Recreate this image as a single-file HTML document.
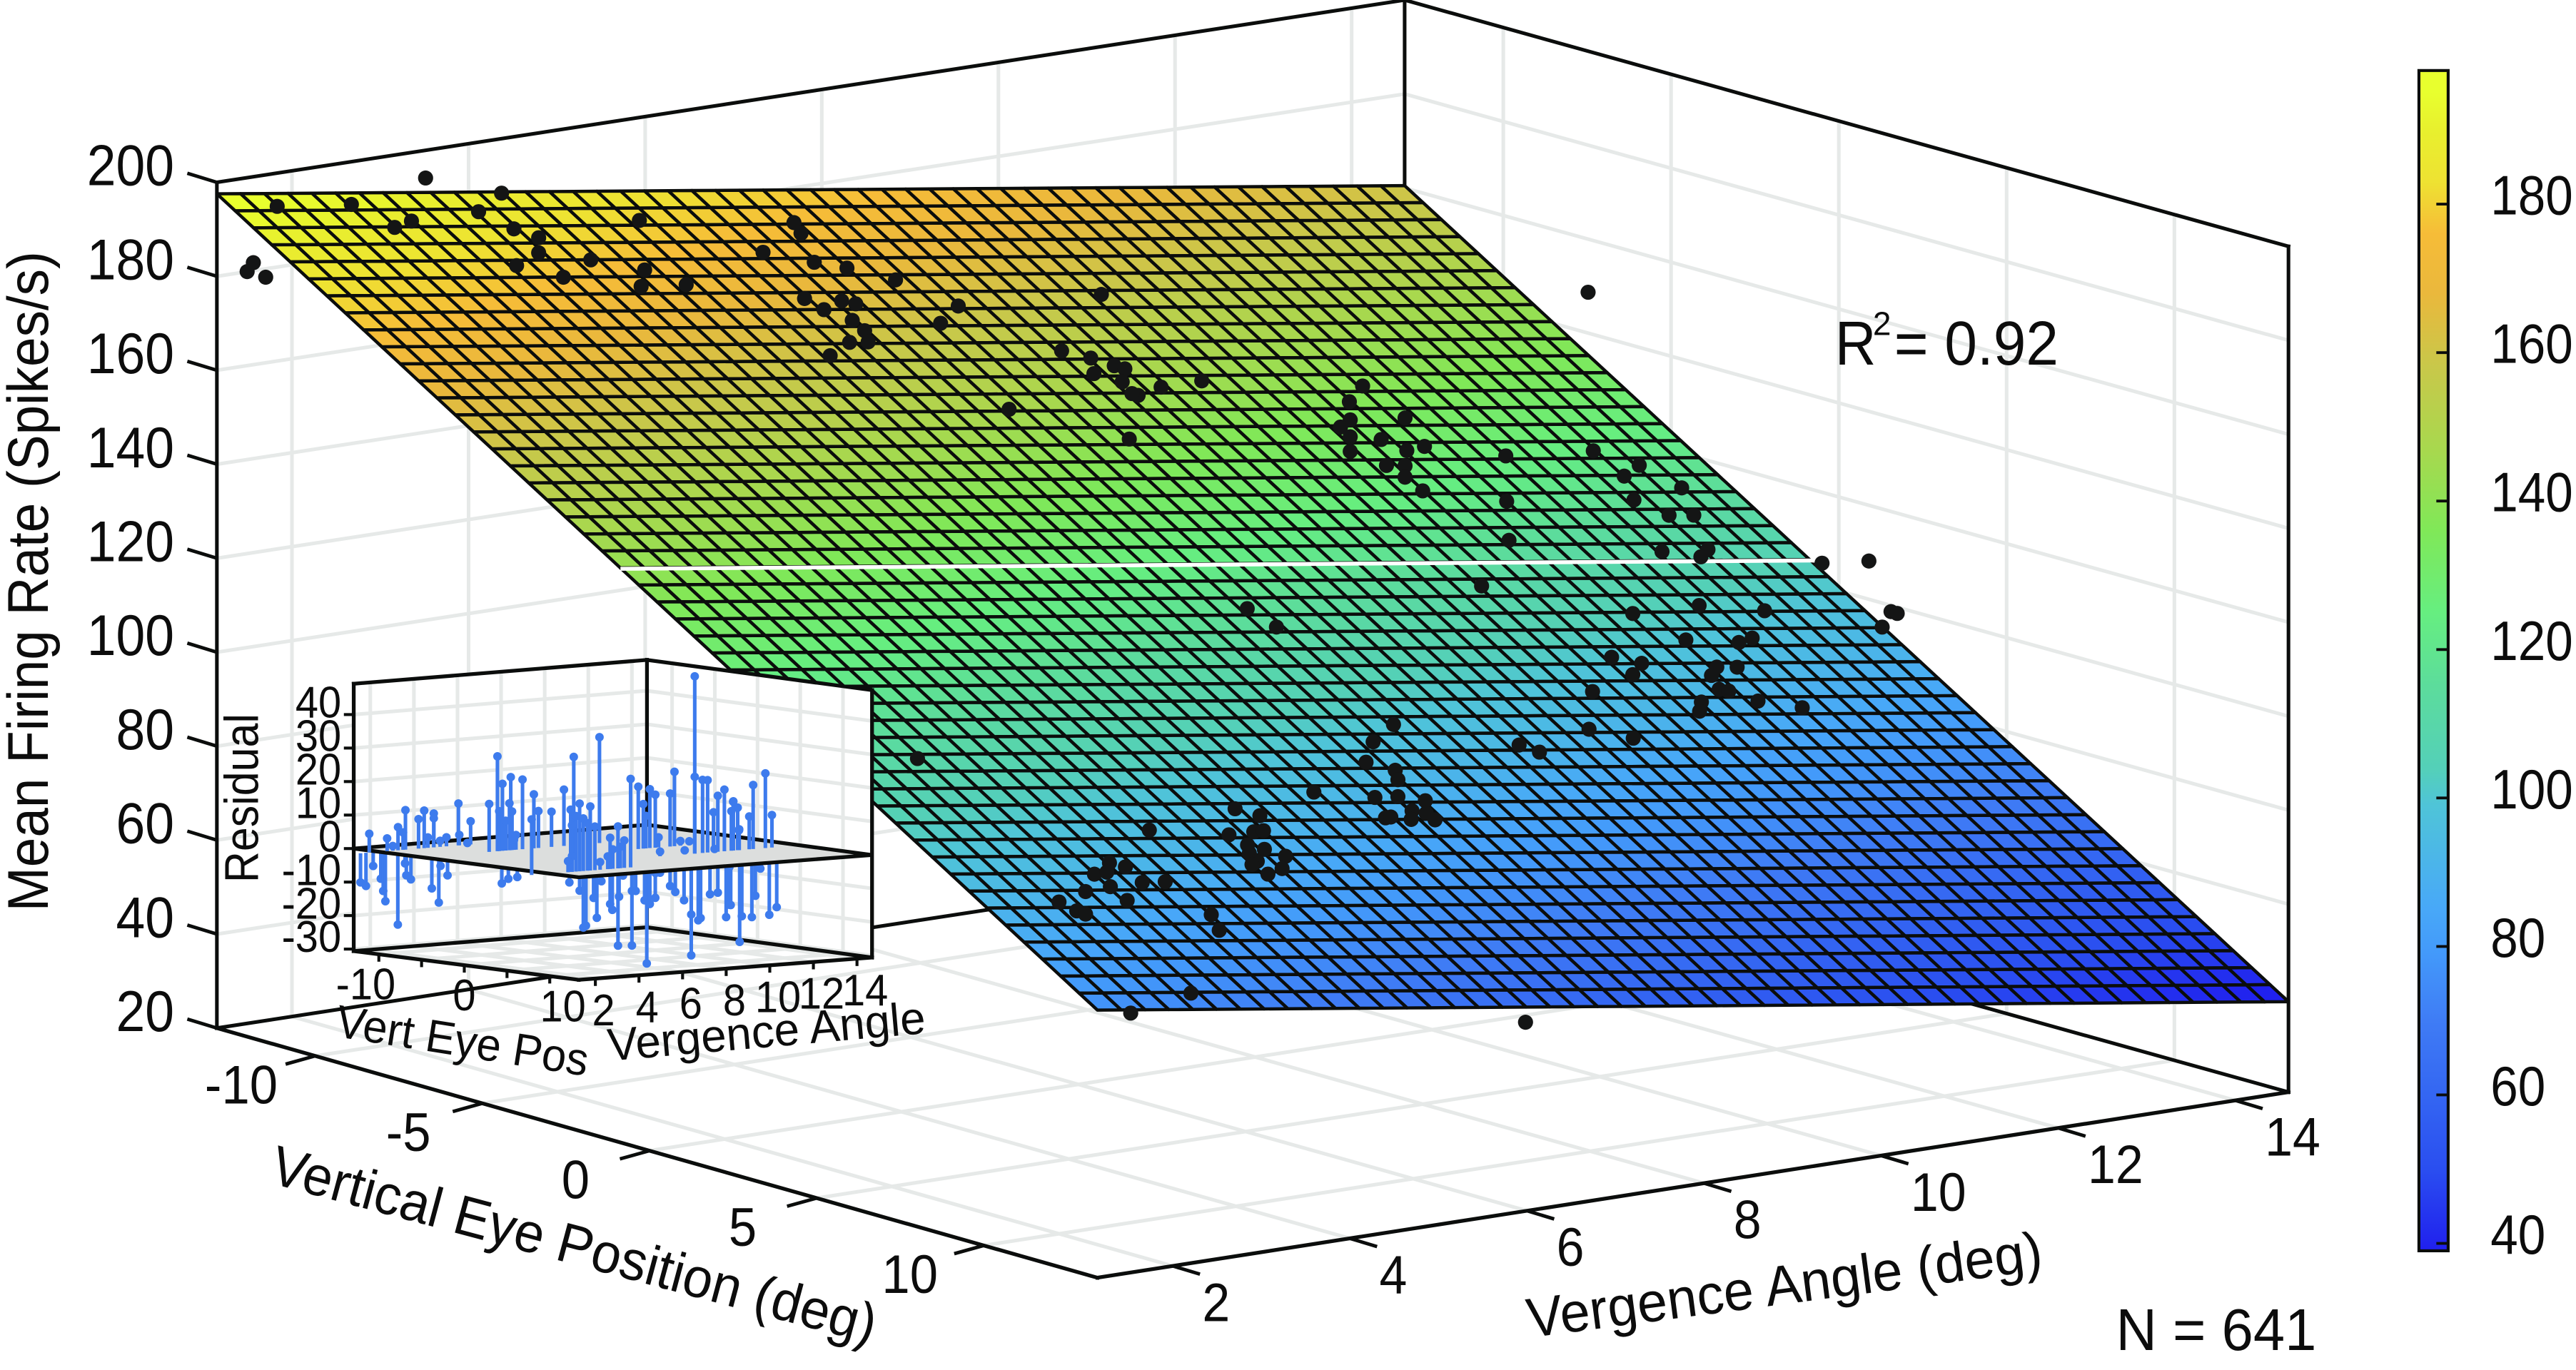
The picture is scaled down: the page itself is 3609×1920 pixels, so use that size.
<!DOCTYPE html>
<html lang="en">
<head>
<meta charset="utf-8">
<title>Mean firing rate vs vergence angle and vertical eye position</title>
<style>
  html, body { margin: 0; padding: 0; background: #ffffff; }
  svg { display: block; font-family: "Liberation Sans", Arial, sans-serif; fill: #0c0c0c; }
</style>
</head>
<body>
<svg id="chart" xmlns="http://www.w3.org/2000/svg" width="3609" height="1920" viewBox="0 0 1568 834.2">
  <rect x="0" y="0" width="1568" height="834.2" fill="#ffffff"/>
  <defs><linearGradient id="barGradient" x1="0" y1="1" x2="0" y2="0"></linearGradient></defs>
  <g id="mainGrid"></g>
  <g id="mainBox"></g>
  <g id="surface"></g>
  <g id="scatter"></g>
  <g id="mainAxes"></g>
  <g id="colorbar"></g>
  <g id="inset"></g>

  <text transform="translate(29,555) rotate(-90)" font-size="35" textLength="402" lengthAdjust="spacingAndGlyphs">Mean Firing Rate (Spikes/s)</text>
  <text transform="translate(163,720) rotate(15)" font-size="34" textLength="380" lengthAdjust="spacingAndGlyphs">Vertical Eye Position (deg)</text>
  <text transform="translate(931,814.5) rotate(-7.5)" font-size="34" textLength="316" lengthAdjust="spacingAndGlyphs">Vergence Angle (deg)</text>
  <text x="1288" y="822" font-size="36" textLength="122" lengthAdjust="spacingAndGlyphs">N = 641</text>
  <text x="1117" y="222" font-size="38" textLength="25" lengthAdjust="spacingAndGlyphs">R</text>
  <text x="1140" y="204" font-size="20">2</text>
  <text x="1153" y="222" font-size="38" textLength="100" lengthAdjust="spacingAndGlyphs">= 0.92</text>
  <text transform="translate(157,537.5) rotate(-90)" font-size="29" textLength="103" lengthAdjust="spacingAndGlyphs">Residual</text>
  <text transform="translate(203.5,631) rotate(9)" font-size="28" textLength="155" lengthAdjust="spacingAndGlyphs">Vert Eye Pos</text>
  <text transform="translate(370.7,646) rotate(-5)" font-size="28" textLength="194" lengthAdjust="spacingAndGlyphs">Vergence Angle</text>
</svg>

<script>
// ---- tick labels ----
var rateTicks = [20, 40, 60, 80, 100, 120, 140, 160, 180, 200];
var vergenceTicks = [2, 4, 6, 8, 10, 12, 14];
var eyeTicks = [-10, -5, 0, 5, 10];
var colorbarTicks = [40, 60, 80, 100, 120, 140, 160, 180];
var residualTicks = [-30, -20, -10, 0, 10, 20, 30, 40];
var insetEyeLabels = [-10, 0, 10];

// ---- colormap ----
var colorValues = [39, 50, 60, 70, 79, 85, 99, 104, 115, 125, 136, 147, 158, 168, 176, 183, 190, 195, 198];
var colorHexes = ['#2020ee', '#2a4ef0', '#3466f2', '#3f7cf5', '#4399fa', '#48a8f8', '#4fc4d8', '#54d0b8', '#5cdc9c', '#66ee80', '#80e858', '#a8d84e', '#c8c84a', '#eab83c', '#f6bc38', '#eee232', '#e8f02e', '#e8ff2e', '#e8ff2e'];

// ---- scatter data, one pair of arrays per vertical eye position ----
var scatterEyeLevels = [-10, -5, 0, 5, 10];
var vergenceEyeM10 = [2.40,3.26,.72,1.56,3.00,2.24,2.05,3.40,3.68,3.68,3.43,3.96,.45,.38,.59,4.82,6.57,6.65,6.22,4.27,4.88,6.80,7.17,7.72,4.84,5.35,6.69,6.91,7.11,7.27,7.23,7.37,7.20,7.41,6.98,10.05,8.43,8.23,9.60,9.93,15.56];
var rateEyeM10 = [202.9,197.2,201.7,199.7,194.0,194.2,193.4,189.2,186.5,183.3,181.3,177.3,190.5,188.8,187,186.9,181.4,178.9,176.1,180.1,176.2,172.3,170,165.9,172.8,171.7,164.9,161.9,163.2,162.1,158.7,156.1,154.1,153.6,151.9,156.1,158.3,155.2,145.4,142.9,140.7];
var vergenceEyeM5 = [8.07,8.30,8.42,8.39,8.57,8.50,8.83,9.29,7.11,8.47,11.11,10.96,10.97,10.86,10.97,11.59,10.97,11.32,11.61,11.81,11.38,11.59,11.59,11.79,12.73,13.72,14.24,14.07,14.72,14.18,12.74];
var rateEyeM5 = [154.8,155.8,154.8,152.1,148.7,149.3,149.7,149.7,150,139.7,143.3,140.4,136.5,135.3,132.9,135.1,129.8,131.3,128.1,128.4,125.6,124.9,122.5,119,123.7,121.9,117.3,115.5,111.1,110.1,114];
var vergenceEye0 = [12.68,12.96,10.87,12.60,13.12,13.04,14.41,14.94,10.56,7.91,8.24,13.02,13.76,12.27,15.19,15.26,15.09,12.87,13.47,13.62,12.03,12.37,12.27,13.22,13.45,13.16];
var rateEye0 = [120.9,120.1,120.9,113.4,112.3,111,105.6,104.5,112.1,115.1,110.2,100.7,97.4,101.2,93,92.4,90,93.8,91.5,92,92.6,90.3,88.2,87,86.3,85.4];
var vergenceEye5 = [9.92,11.35,11.46,11.15,11.79,12.29,11.13,7.67,9.88,10.38,7.44,9.09,9.32,7.36,7.69,7.72,6.77,7.46,7.72,8.03,7.88,7.58,7.64,7.87,8.04,8.14,5.88,6.16,2.29];
var rateEye5 = [101.3,97.5,96.8,95.4,93.7,90.8,93.5,101,93.4,90,98,92.4,90.2,93.9,91.2,89.1,89.3,86.1,85.5,83.7,82,81.4,81.4,80.2,81,79.3,88.4,86.1,109.8];
var vergenceEye10 = [3.02,4.20,4.31,3.92,4.13,4.32,4.15,4.56,4.24,4.18,4.52,4.36,2.57,2.75,2.40,2.54,2.94,3.20,2.58,2.30,2.00,2.77,2.20,2.30,3.72,3.81,3.49,2.81,7.27];
var rateEye10 = [102.4,98.5,98.4,98.7,95.9,94.4,94.1,92.2,92.1,91.6,89.7,89,96.8,95.4,94.9,94.9,91.5,90.9,91.7,91.5,90.2,88.2,87.7,86.7,82.3,78.7,66.3,64.1,48.7];

// ---- residual stems, one pair of arrays per vertical eye position ----
var residVergenceM10 = [.80,1.62,2.12,2.46,2.35,3.06,3.32,3.49,3.76,3.76,4.05,4.34,4.89,4.93,5.45,5.30,1.88,.40,.65,.98,1.33,1.44,1.54,2.11,2.44,2.71,2.50,3.67,3.99,4.07,4.39];
var residualM10 = [5.6,3.8,6.9,11.8,5.2,8.8,11.2,3.1,10.1,8.7,1.8,2.7,12.5,3.1,6.9,.5,1.4,-8.7,-9.9,-4.1,-8.1,-11.8,-14.9,-22.2,-4.1,-9,-7.7,-12.2,-16.6,-5.7,-8.7];
var residVergenceM5 = [4.34,4.72,4.95,5.33,5.27,5.39,5.87,4.80,5.10,5.57,5.48,6.39,6.60,7.20,7.77,9.40,4.92,5.22,5.63];
var residualM5 = [14.3,28.3,20,21.8,14,11.5,20.8,11.9,8.9,4.4,3,16.1,11,10.5,16.8,31.6,-9.7,-8.5,-8.2];
var residVergence0 = [6.26,9.22,9.75,10.0,9.45,10.68,10.88,10.15,9.57,11.15,11.56];
var residual0 = [29,18.6,17.6,15.8,13.3,15.8,22.2,3,9.7,1.4,1.1];
var residVergence5 = [8.26,9.39,9.85,9.85,10.21,10.44,10.91,11.21,11.61,10.71,11.53,11.82,10.76,11.88,13.09,12.53,13.39,12.35,11.62,11.89,4.10,4.57,4.74,4.86,5.36,5.21,5.57,5.97,6.07,6.33,6.38,6.56,6.97,6.97,7.14,7.65,7.55,7.79,8.04,8.05,8.26,8.72,8.96,9.36,9.69,9.69,10.01,10.12,10.55,10.91,11.29,11.50,11.91,13.61,13.27,12.47,12.63,12.01,12.86,11.44,11.44];
var residual5 = [1.4,1.2,22.9,52.9,21.8,21.6,16.7,18.4,14.6,11.9,11.8,12.7,.9,5.9,22.3,19.1,9.7,9.8,14.7,6.2,-5.7,-8.4,-19.5,-19,-16.9,-10.9,-6.1,-13.1,-14.9,-25.7,-11.1,-4.9,-26,-9.7,-9.8,-31.7,-12.8,-14,-12.3,-4.9,-4.9,-9.1,-11,-13.7,-30.3,-18.1,-20,-19.4,-12.5,-12.2,-19.7,-16.2,-27.4,-17.9,-20,-20.3,-14,-19.8,-6,-4.8,-16.1];
var residVergence10 = [.41,2.61,2.20,3.10,2.78,2.97,3.31,2.44,4.37,4.01,4.66,4.95,2.26,4.13,4.48,3.90,3.55,2.26,2.08];
var residual10 = [16.6,20.2,18.6,19.1,15.7,14.2,13,16.6,12.5,9.3,8.2,26.4,13.9,5.8,6.4,3.8,2.3,4.7,3.3];

// ---- helpers ----
var SVGNS = 'http://www.w3.org/2000/svg';
var INK = '#0b0d0c';
var GRID = '#e6e9e8';
var BLUE = '#3d7bed';
function el(tag, attrs, parent) {
  var n = document.createElementNS(SVGNS, tag);
  for (var k in attrs) { n.setAttribute(k, attrs[k]); }
  parent.appendChild(n);
  return n;
}
function pointsAttr(list) {
  return list.map(function (p) { return p[0].toFixed(2) + ',' + p[1].toFixed(2); }).join(' ');
}
function hexToRgb(h) {
  return [parseInt(h.substr(1, 2), 16), parseInt(h.substr(3, 2), 16), parseInt(h.substr(5, 2), 16)];
}
function colorFor(val) {
  if (val <= colorValues[0]) { return colorHexes[0]; }
  for (var i = 1; i < colorValues.length; i++) {
    if (val <= colorValues[i]) {
      var t = (val - colorValues[i - 1]) / (colorValues[i] - colorValues[i - 1]);
      var a = hexToRgb(colorHexes[i - 1]);
      var b = hexToRgb(colorHexes[i]);
      return 'rgb(' + Math.round(a[0] + (b[0] - a[0]) * t) + ',' + Math.round(a[1] + (b[1] - a[1]) * t) + ',' + Math.round(a[2] + (b[2] - a[2]) * t) + ')';
    }
  }
  return colorHexes[colorHexes.length - 1];
}

// ---- main axis functions ----
var VERG_MIN = 1.15, VERG_MAX = 14.6, EYE_MIN = -12.94, EYE_MAX = 13.4, RATE_BASE = 20, RATE_PX = 2.861;
function vNorm(verg) { return (verg - VERG_MIN) / (VERG_MAX - VERG_MIN); }
function eNorm(eye) { return (eye - EYE_MIN) / (EYE_MAX - EYE_MIN); }
function screenX(e, v) { return 132 + 536 * e + 723 * v + 2 * e * v; }
function floorY(e, v) { return 626 + 152 * e - 111 * v - 2 * e * v; }
function wallPoint(e, v, rate) { return [screenX(e, v), floorY(e, v) - (rate - RATE_BASE) * RATE_PX]; }
function markPoint(e, v, rate) { return [screenX(e, v), 625 + 152 * e - 110 * v - 7 * e * v - (rate - RATE_BASE) * RATE_PX]; }
function surfaceRate(e, v) { return 197.2 - 36.7 * v - 120.6 * e - 2.4 * e * v; }

var mainGrid = document.getElementById('mainGrid');
var mainBox = document.getElementById('mainBox');
var surfaceGroup = document.getElementById('surface');
var scatterGroup = document.getElementById('scatter');
var mainAxes = document.getElementById('mainAxes');
var colorbarGroup = document.getElementById('colorbar');
var insetGroup = document.getElementById('inset');

function gridLine(parent, a, b, width) {
  var line = el('line', { x1: a[0], y1: a[1], x2: b[0], y2: b[1], stroke: GRID, 'stroke-width': width }, parent);
  
  
}
function boxLine(parent, a, b, width) {
  var line = el('line', { x1: a[0], y1: a[1], x2: b[0], y2: b[1], stroke: INK, 'stroke-width': width, 'stroke-linecap': 'square' }, parent);
  
  
}
function tickLine(parent, a, dx, dy, width) {
  var line = el('line', { x1: a[0], y1: a[1], x2: a[0] + dx, y2: a[1] + dy, stroke: INK, 'stroke-width': width }, parent);
  
  
}
function tickText(parent, x, y, size, anchor, value, squeeze) {
  var label = String(value);
  var digits = label.replace('-', '').length;
  var widthEm = digits * 0.556 + (label.length - digits) * 0.333;
  var t = el('text', { x: x, y: y, 'font-size': size, 'text-anchor': anchor, textLength: (widthEm * size * squeeze).toFixed(2), lengthAdjust: 'spacingAndGlyphs' }, parent);
  t.textContent = label;
  
  
}

// walls and floor gridlines
var TOP_RATE = 200;
vergenceTicks.forEach(function (tick) {
  var v = vNorm(tick);
  gridLine(mainGrid, wallPoint(0, v, RATE_BASE), wallPoint(1, v, RATE_BASE), 2.2);
  gridLine(mainGrid, wallPoint(0, v, RATE_BASE), wallPoint(0, v, TOP_RATE), 2.2);
});
eyeTicks.forEach(function (tick) {
  var e = eNorm(tick);
  gridLine(mainGrid, wallPoint(e, 0, RATE_BASE), wallPoint(e, 1, RATE_BASE), 2.2);
  gridLine(mainGrid, wallPoint(e, 1, RATE_BASE), wallPoint(e, 1, TOP_RATE), 2.2);
});
rateTicks.forEach(function (tick) {
  gridLine(mainGrid, wallPoint(0, 0, tick), wallPoint(0, 1, tick), 2.2);
  gridLine(mainGrid, wallPoint(0, 1, tick), wallPoint(1, 1, tick), 2.2);
});

// box
var cLeft = wallPoint(0, 0, RATE_BASE), cFront = wallPoint(1, 0, RATE_BASE), cRight = wallPoint(1, 1, RATE_BASE), cBack = wallPoint(0, 1, RATE_BASE);
var tLeft = wallPoint(0, 0, TOP_RATE), tRight = wallPoint(1, 1, TOP_RATE), tBack = wallPoint(0, 1, TOP_RATE);
boxLine(mainBox, cLeft, tLeft, 2.2);
boxLine(mainBox, cRight, tRight, 2.2);
boxLine(mainBox, cBack, tBack, 2.2);
boxLine(mainBox, tLeft, tBack, 2.2);
boxLine(mainBox, tBack, tRight, 2.2);
boxLine(mainBox, cLeft, cBack, 2.2);
boxLine(mainBox, cBack, cRight, 2.2);

// fitted surface
var SURFACE_COLS = 50, SURFACE_ROWS = 48;
for (var row = 0; row < SURFACE_ROWS; row++) {
  for (var col = 0; col < SURFACE_COLS; col++) {
    var e0 = row / SURFACE_ROWS, e1 = (row + 1) / SURFACE_ROWS;
    var v0 = col / SURFACE_COLS, v1 = (col + 1) / SURFACE_COLS;
    var cell = el('polygon', {
      points: pointsAttr([
        markPoint(e0, v0, surfaceRate(e0, v0)),
        markPoint(e0, v1, surfaceRate(e0, v1)),
        markPoint(e1, v1, surfaceRate(e1, v1)),
        markPoint(e1, v0, surfaceRate(e1, v0))
      ]),
      fill: colorFor(surfaceRate((e0 + e1) / 2, (v0 + v1) / 2)),
      stroke: INK,
      'stroke-width': 1.95,
      'stroke-linejoin': 'round'
    }, surfaceGroup);
    
    
  }
}
var WHITE_ROW = 22;
var wA = markPoint(WHITE_ROW / SURFACE_ROWS, 0, surfaceRate(WHITE_ROW / SURFACE_ROWS, 0));
var wB = markPoint(WHITE_ROW / SURFACE_ROWS, 1, surfaceRate(WHITE_ROW / SURFACE_ROWS, 1));
var whiteLine = el('line', { x1: wA[0], y1: wA[1] + 0.5, x2: wB[0] + 3, y2: wB[1] + 0.5, stroke: '#ffffff', 'stroke-width': 2.4 }, surfaceGroup);



// scatter
var scatterVergence = [vergenceEyeM10, vergenceEyeM5, vergenceEye0, vergenceEye5, vergenceEye10];
var scatterRate = [rateEyeM10, rateEyeM5, rateEye0, rateEye5, rateEye10];
scatterEyeLevels.forEach(function (eye, r) {
  scatterVergence[r].forEach(function (verg, i) {
    var p = markPoint(eNorm(eye), vNorm(verg), scatterRate[r][i]);
    var dot = el('circle', { cx: p[0].toFixed(2), cy: p[1].toFixed(2), r: 4.6, fill: '#141515' }, scatterGroup);
    
    
  });
});

// front axes, ticks, labels
boxLine(mainAxes, cLeft, cFront, 2.3);
boxLine(mainAxes, cFront, cRight, 2.3);
rateTicks.forEach(function (tick) {
  var p = wallPoint(0, 0, tick);
  tickLine(mainAxes, p, -18, -5.5, 2.1);
  tickText(mainAxes, 106, p[1] + 1.8, 35, 'end', tick, 0.91);
});
vergenceTicks.forEach(function (tick) {
  var p = wallPoint(1, vNorm(tick), RATE_BASE);
  tickLine(mainAxes, p, 16.6, 5, 2.1);
  tickText(mainAxes, p[0] + 18, p[1] + 33.6, 33, 'start', tick, 0.92);
});
eyeTicks.forEach(function (tick) {
  var p = wallPoint(eNorm(tick), 0, RATE_BASE);
  tickLine(mainAxes, p, -18, 5, 2.1);
  tickText(mainAxes, p[0] - 45, p[1] + 29, 33, 'middle', tick, 0.93);
});

// colorbar
var BAR_MIN = 39, BAR_MAX = 198;
var gradient = document.getElementById('barGradient');
colorValues.forEach(function (val, i) {
  el('stop', { offset: (val - BAR_MIN) / (BAR_MAX - BAR_MIN), 'stop-color': colorHexes[i] }, gradient);
});
function barY(val) { return 124.3 + (180 - val) * 4.52; }
var barRect = el('rect', { x: 1472.4, y: barY(BAR_MAX), width: 17.8, height: barY(BAR_MIN) - barY(BAR_MAX), fill: 'url(#barGradient)', stroke: INK, 'stroke-width': 1.8 }, colorbarGroup);


colorbarTicks.forEach(function (tick) {
  var y = barY(tick);
  tickLine(colorbarGroup, [1490.2, y], -7.2, 0, 1.7);
  tickText(colorbarGroup, 1516, y + 6.3, 34, 'start', tick, 0.885);
});

// ---- inset axis functions ----
var INSET_VERG_MIN = 1.24, INSET_VERG_SPAN = 13.45, RES_PX = 2.04, RES_BOTTOM = -30.6, RES_TOP = 49.2;
function insetV(verg) { return (verg - INSET_VERG_MIN) / INSET_VERG_SPAN; }
function insetPoint(e, v, res) {
  return [215.3 + 137 * e + 178.5 * v, 516.7 + 17.5 * e - 14.5 * v + 0.9 * e * v - res * RES_PX];
}
var iLB = insetPoint(0, 0, RES_BOTTOM), iFB = insetPoint(1, 0, RES_BOTTOM), iRB = insetPoint(1, 1, RES_BOTTOM), iBB = insetPoint(0, 1, RES_BOTTOM);
var iLT = insetPoint(0, 0, RES_TOP), iRT = insetPoint(1, 1, RES_TOP), iBT = insetPoint(0, 1, RES_TOP);

var insetBg = el('polygon', { points: pointsAttr([iLT, iBT, iRT, iRB, iFB, iLB]), fill: '#ffffff' }, insetGroup);



// inset gridlines
vergenceTicks.forEach(function (tick) {
  var v = insetV(tick);
  gridLine(insetGroup, insetPoint(0, v, RES_BOTTOM), insetPoint(1, v, RES_BOTTOM), 2.2);
  gridLine(insetGroup, insetPoint(0, v, RES_BOTTOM), insetPoint(0, v, RES_TOP), 2.2);
});
eyeTicks.forEach(function (tick) {
  var e = eNorm(tick);
  gridLine(insetGroup, insetPoint(e, 0, RES_BOTTOM), insetPoint(e, 1, RES_BOTTOM), 2.2);
  gridLine(insetGroup, insetPoint(e, 1, RES_BOTTOM), insetPoint(e, 1, RES_TOP), 2.2);
});
residualTicks.forEach(function (tick) {
  gridLine(insetGroup, insetPoint(0, 0, tick), insetPoint(0, 1, tick), 2.2);
  gridLine(insetGroup, insetPoint(0, 1, tick), insetPoint(1, 1, tick), 2.2);
});

// inset back frame
boxLine(insetGroup, iLB, iLT, 2.3);
boxLine(insetGroup, iLT, iBT, 2.3);
boxLine(insetGroup, iBT, iRT, 2.3);
boxLine(insetGroup, iRT, iRB, 2.3);
boxLine(insetGroup, iBT, iBB, 2.3);
boxLine(insetGroup, iLB, iBB, 2.3);
boxLine(insetGroup, iBB, iRB, 2.3);

// stems
var residVergence = [residVergenceM10, residVergenceM5, residVergence0, residVergence5, residVergence10];
var residValues = [residualM10, residualM5, residual0, residual5, residual10];
function drawStems(wantPositive) {
  scatterEyeLevels.forEach(function (eye, r) {
    residVergence[r].forEach(function (verg, i) {
      var res = residValues[r][i];
      if ((res >= 0) !== wantPositive) { return; }
      var e = eNorm(eye), v = insetV(verg);
      var base = insetPoint(e, v, 0), tip = insetPoint(e, v, res);
      var stem = el('line', { x1: base[0].toFixed(2), y1: base[1].toFixed(2), x2: tip[0].toFixed(2), y2: tip[1].toFixed(2), stroke: BLUE, 'stroke-width': 2.2 }, insetGroup);
      
      
      var head = el('circle', { cx: tip[0].toFixed(2), cy: tip[1].toFixed(2), r: 2.6, fill: BLUE }, insetGroup);
      
      
    });
  });
}
drawStems(false);

// zero plane
var zL = insetPoint(0, 0, 0), zF = insetPoint(1, 0, 0), zR = insetPoint(1, 1, 0), zB = insetPoint(0, 1, 0);
var zeroPlane = el('polygon', { points: pointsAttr([zL, zB, zR, zF]), fill: '#dcdedd', stroke: INK, 'stroke-width': 2.3, 'stroke-linejoin': 'miter' }, insetGroup);


drawStems(true);

// inset front frame and ticks
boxLine(insetGroup, iLB, iFB, 2.3);
boxLine(insetGroup, iFB, iRB, 2.3);
residualTicks.forEach(function (tick) {
  var p = insetPoint(0, 0, tick);
  tickLine(insetGroup, p, -6, 0, 1.8);
  tickText(insetGroup, 207.7, p[1] + 1.8, 27, 'end', tick, 0.93);
});
vergenceTicks.forEach(function (tick) {
  var p = insetPoint(1, insetV(tick), RES_BOTTOM);
  tickLine(insetGroup, p, 0, 4.5, 1.8);
  tickText(insetGroup, p[0] + 5, p[1] + 28.5, 27, 'middle', tick, 0.93);
});
eyeTicks.forEach(function (tick) {
  tickLine(insetGroup, insetPoint(eNorm(tick), 0, RES_BOTTOM), 0, 4.5, 1.8);
});
insetEyeLabels.forEach(function (tick) {
  var p = insetPoint(eNorm(tick), 0, RES_BOTTOM);
  tickText(insetGroup, p[0] + tick * 0.8, p[1] + 27.5, 27, 'middle', tick, 0.93);
});
</script>
</body>
</html>
